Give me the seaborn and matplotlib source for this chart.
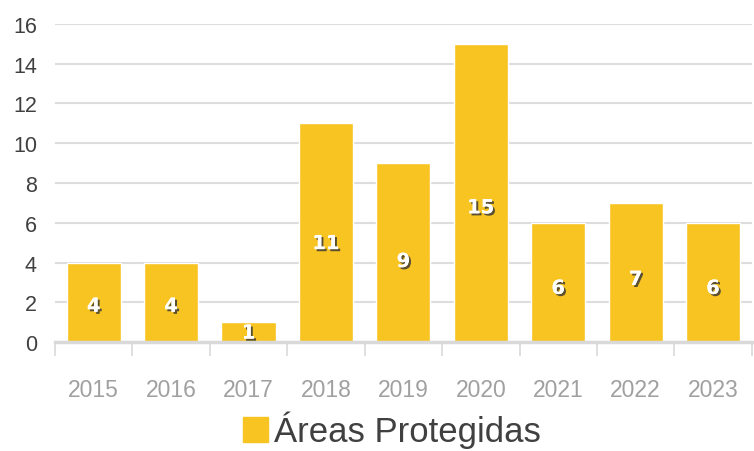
import pandas as pd
import seaborn as sns
import matplotlib.pyplot as plt
import matplotlib.patheffects as pe
from matplotlib.lines import Line2D

# dados
anos = ['2015', '2016', '2017', '2018', '2019', '2020', '2021', '2022', '2023']
areas = [4, 4, 1, 11, 9, 15, 6, 7, 6]
serie = 'Áreas Protegidas'

df = pd.DataFrame({'ano': anos, 'valor': areas})

sns.set_style('white')
plt.rcParams['font.family'] = ['Liberation Sans', 'DejaVu Sans']

fig = plt.figure(figsize=(7.54, 4.52), dpi=100)
ax = fig.add_axes([0.073, 0.241, 0.924, 0.704])

cor = '#F8C422'
sns.barplot(data=df, x='ano', y='valor', color=cor, width=0.7,
            saturation=1, ax=ax, zorder=3)

ax.set_ylim(0, 16)
ax.set_xlim(-0.5, len(anos) - 0.5)
ax.set_yticks(range(0, 17, 2))
ax.grid(axis='y', color='#dddddd', linewidth=1.5, zorder=0)
ax.set_xlabel('')
ax.set_ylabel('')

for s in ['top', 'right', 'left']:
    ax.spines[s].set_visible(False)
ax.spines['bottom'].set_color('#d9d9d9')
ax.spines['bottom'].set_linewidth(2.5)
ax.spines['bottom'].set_zorder(4)

ax.tick_params(axis='y', left=False, length=0, labelsize=15.5, labelcolor='#404040', pad=13)
ax.tick_params(axis='x', which='major', bottom=False, length=0, labelsize=16.5,
               labelcolor='#a0a0a0', pad=26)
ax.set_xticks([i - 0.5 for i in range(len(anos) + 1)], minor=True)
ax.tick_params(axis='x', which='minor', bottom=True, length=10, width=1.2, color='#d9d9d9')

# rótulos dentro das barras
sombra = [pe.withSimplePatchShadow(offset=(1.5, -1.5), shadow_rgbFace='#333333', alpha=0.8),
          pe.Normal()]
for i, v in enumerate(areas):
    ax.text(i, v * 0.45, str(v), ha='center', va='center', color='white',
            fontsize=14, fontweight='bold', family='DejaVu Sans',
            path_effects=sombra, zorder=5)

# legenda
marcador = Line2D([0], [0], marker='s', color='none', markerfacecolor=cor,
                  markeredgecolor=cor, markersize=18)
fig.legend([marcador], [serie], loc='lower center', bbox_to_anchor=(0.52, -0.062),
           frameon=False, fontsize=25, handlelength=0.7, handletextpad=0.2,
           labelcolor='#404040')

plt.savefig('out.png', dpi=100)
